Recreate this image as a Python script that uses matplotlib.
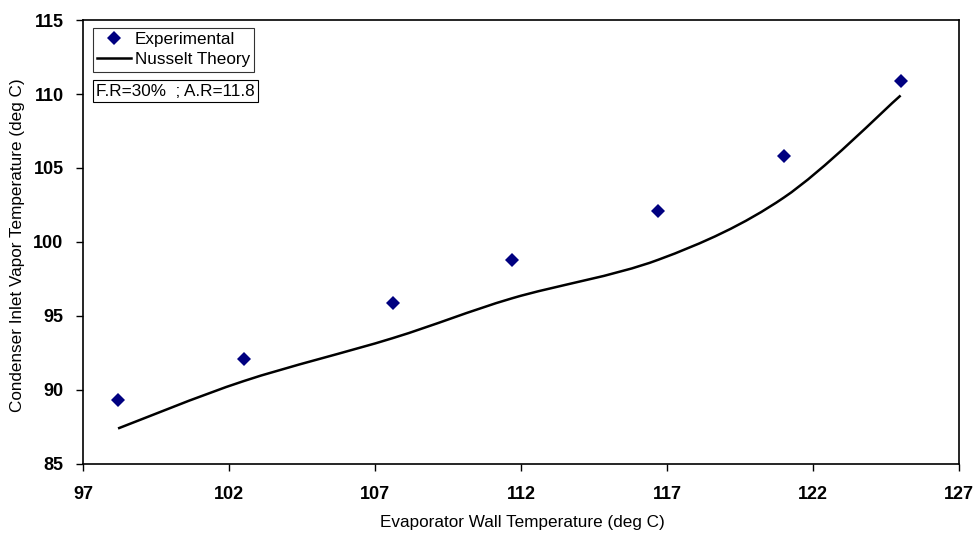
import matplotlib
matplotlib.use("Agg")
import matplotlib.pyplot as plt
from matplotlib.path import Path
from matplotlib.patches import PathPatch
from matplotlib.lines import Line2D

plt.rcParams['font.family'] = ['Liberation Sans', 'DejaVu Sans']

# Data
exp_x = [98.2, 102.5, 107.6, 111.7, 116.7, 121.0, 125.0]
exp_y = [89.3, 92.1, 95.9, 98.8, 102.1, 105.8, 110.9]
theory_x = [98.2, 102.5, 107.6, 111.7, 116.7, 121.0, 125.0]
theory_y = [87.4, 90.6, 93.5, 96.2, 98.8, 103.0, 109.9]
x_ticks = [97, 102, 107, 112, 117, 122, 127]
y_ticks = [85, 90, 95, 100, 105, 110, 115]

W, H = 976, 533
fig = plt.figure(figsize=(W / 100, H / 100), dpi=100)
ax = fig.add_axes([83 / W, 1 - 464 / H, (959 - 83) / W, (464 - 20) / H])

ax.set_xlim(97, 127)
ax.set_ylim(85, 115)
ax.set_xticks(x_ticks)
ax.set_yticks(y_ticks)
ax.tick_params(direction='out', length=5, width=1, labelsize=13)
ax.tick_params(axis='x', pad=10.5)
ax.tick_params(axis='y', pad=9)
for lab in ax.get_xticklabels() + ax.get_yticklabels():
    lab.set_fontweight('bold')
for s in ax.spines.values():
    s.set_linewidth(1.2)

# Smoothed theory line (Catmull-Rom style Bezier through the points)
def smooth_path(xs, ys, t=1/6):
    pts = list(zip(xs, ys))
    verts = [pts[0]]
    codes = [Path.MOVETO]
    n = len(pts)
    for i in range(n - 1):
        p0 = pts[i - 1] if i > 0 else pts[i]
        p1 = pts[i]
        p2 = pts[i + 1]
        p3 = pts[i + 2] if i + 2 < n else pts[i + 1]
        c1 = (p1[0] + (p2[0] - p0[0]) * t, p1[1] + (p2[1] - p0[1]) * t)
        c2 = (p2[0] - (p3[0] - p1[0]) * t, p2[1] - (p3[1] - p1[1]) * t)
        verts += [c1, c2, p2]
        codes += [Path.CURVE4] * 3
    return Path(verts, codes)

ax.add_patch(PathPatch(smooth_path(theory_x, theory_y), fill=False,
                       edgecolor='black', linewidth=1.8, zorder=2))

ax.plot(exp_x, exp_y, linestyle='none', marker='D', markersize=7,
        color='#000080', markeredgewidth=0, zorder=3)

fig.text(522 / W, 1 - 522 / H, 'Evaporator Wall Temperature (deg C)',
         fontsize=12.3, ha='center', va='center')
fig.text(18 / W, 1 - 245 / H, 'Condenser Inlet Vapor Temperature (deg C)',
         fontsize=12.3, ha='center', va='center', rotation=90)

handles = [
    Line2D([], [], linestyle='none', marker='D', markersize=7,
           color='#000080', markeredgewidth=0),
    Line2D([], [], color='black', linewidth=1.8),
]
leg = fig.legend(handles, ['Experimental', 'Nusselt Theory'],
                 loc='upper left', bbox_to_anchor=(93 / W, 1 - 28 / H),
                 fontsize=12.3, frameon=True, fancybox=False,
                 handlelength=2.0, handletextpad=0.2, borderpad=0.25,
                 labelspacing=0.3, borderaxespad=0)
leg.get_frame().set_edgecolor('black')
leg.get_frame().set_linewidth(0.8)

fig.text(96 / W, 1 - 91 / H, 'F.R=30%  ; A.R=11.8', fontsize=12.3,
         va='center', ha='left',
         bbox=dict(boxstyle='square,pad=0.2', facecolor='white',
                   edgecolor='black', linewidth=0.8))

fig.savefig('out.png', dpi=100)
